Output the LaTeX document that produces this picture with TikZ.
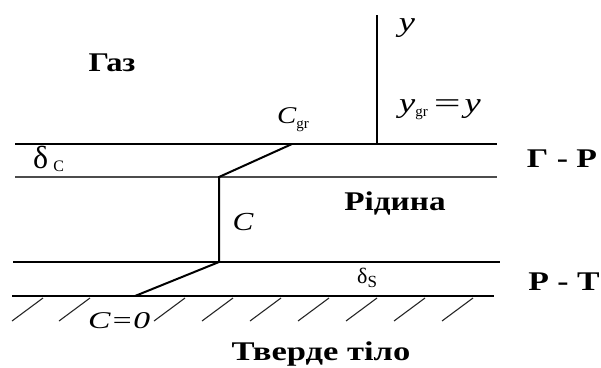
\documentclass[tikz,border=0pt]{standalone}
\usepackage{fontspec}
\setmainfont{Liberation Serif}
\newcommand{\fs}[1]{\fontsize{#1}{#1}\selectfont}
\newcommand{\wide}[2]{\scalebox{#1}[1]{#2}}
\begin{document}
\begin{tikzpicture}[x=1pt,y=-1pt,
  heavy/.style={line width=2.6pt, line cap=butt},
  thinline/.style={line width=1.1pt, black!70},
  midline/.style={line width=1.7pt},
  profile/.style={line width=2pt, line join=miter},
  hatch/.style={line width=1.1pt, black!85},
  phase/.style={inner sep=0pt, font=\bfseries\fs{27}},
  sym/.style={inner sep=0pt, font=\itshape\fs{24}}]
\useasboundingbox (0,0) rectangle (601,367);
% coordinates
\coordinate (GRl) at (15,144);  \coordinate (GRr) at (497,144);
\coordinate (Fl)  at (15,177);  \coordinate (Fr)  at (497,177);
\coordinate (Sl)  at (13,262);  \coordinate (Sr)  at (500,262);
\coordinate (PTl) at (12,296);  \coordinate (PTr) at (494,296);
\coordinate (Ytop) at (377,15); \coordinate (Ybot) at (377,144);
\coordinate (P1) at (292,144);  \coordinate (P2) at (219,177);
\coordinate (P3) at (219,262);  \coordinate (P4) at (135,296);
% lines
\draw[thinline] (Fl) -- (Fr);
\draw[midline] (Sl) -- (Sr);
\draw[heavy] (GRl) -- (GRr);
\draw[heavy] (PTl) -- (PTr);
\draw[profile] (Ytop) -- (Ybot);
\draw[profile] (P1) -- (P2) -- (P3) -- (P4);
\foreach \x in {12,59,154,202,250,298,346,394,442}
  \draw[hatch] (\x,321) -- ++(31,-23);
% phase labels
\node[phase, anchor=base] (gas) at (112,71) {\wide{1.2}{Газ}};
\node[phase, anchor=base] (gr) at (562,167) {\wide{1.25}{Г - Р}};
\node[phase, anchor=base] (liq) at (395,210) {\wide{1.23}{Рідина}};
\node[phase, anchor=base] (pt) at (564,290) {\wide{1.25}{Р - Т}};
\node[phase, anchor=base] (solid) at (321,360) {\wide{1.28}{Тверде тіло}};
% symbols
\node[sym, anchor=center, font=\itshape\fs{28}] (yax) at (407,28) {\wide{1.3}{y}};
\node[sym, anchor=base west, font=\itshape\fs{24}] (cgr) at (277,123)
  {\wide{1.2}{C}\raisebox{-5pt}{\upshape\fs{15}gr}};
\node[sym, anchor=base west, font=\itshape\fs{28}] (ygr) at (399,112)
  {\wide{1.3}{y}\raisebox{-4pt}{\upshape\fs{15}gr}\hspace{6pt}\upshape\wide{1.7}{=}\hspace{4pt}\itshape\wide{1.3}{y}};
\node[sym, anchor=base west, font=\fs{32}] (dc) at (33,168)
  {δ\hspace{5pt}\raisebox{-3pt}{\fs{16}C}};
\node[sym, anchor=base, font=\itshape\fs{26}] (cl) at (243,230) {\wide{1.2}{C}};
\node[sym, anchor=base west, font=\fs{22}] (ds) at (357,283)
  {δ\raisebox{-4pt}{\fs{17}S}};
\node[sym, anchor=base west] (c0) at (88,328) {\wide{1.4}{C=0}};
\end{tikzpicture}
\end{document}
